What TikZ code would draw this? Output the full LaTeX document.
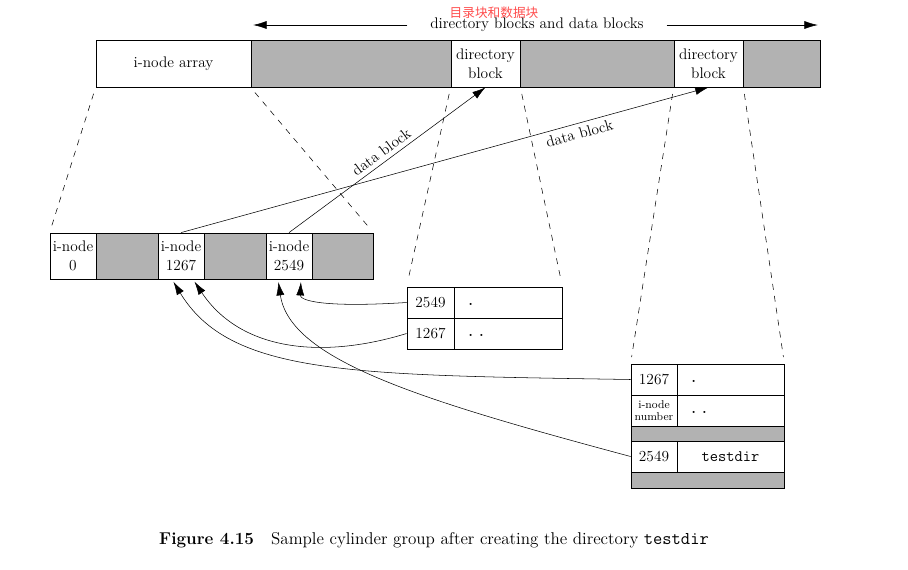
\documentclass[tikz,border=0pt]{standalone}
\usepackage{fontspec}
\newfontfamily\cjk{Noto Sans CJK SC}
\usetikzlibrary{arrows.meta,calc,fit,positioning}
\definecolor{cellgray}{RGB}{178,178,178}
\tikzset{
	cell/.style={draw, line width=0.6pt, inner sep=0pt},
	shaded/.style={cell, fill=cellgray},
	txt/.style={label={[align=center]center:#1}},
	fold/.style={dash pattern=on 4.5pt off 4.5pt, shorten <=5pt, shorten >=5pt},
	ptr/.style={-{Latex[length=10pt,width=6pt]}, shorten >=2pt},
	dots/.style={inner sep=0pt, font=\bfseries},
}
\begin{document}
\begin{tikzpicture}[x=0.75pt,y=-0.75pt,font=\fontsize{11.5}{14}\selectfont]
		\useasboundingbox (0,0) rectangle (908,569);
		\node[cell, fit={(96,40) (251,87)}, txt={i-node array}] (ia) {};
		\node[shaded, fit={(251,40) (451,87)}] (g1) {};
		\node[cell, fit={(451,40) (520,87)}, txt={directory\\block}] (dA) {};
		\node[shaded, fit={(520,40) (674,87)}] (g2) {};
		\node[cell, fit={(674,40) (743,87)}, txt={directory\\block}] (dB) {};
		\node[shaded, fit={(743,40) (820,87)}] (g3) {};
		\node[inner xsep=17pt] (span) at (537,25) {directory blocks and data blocks};
		\node[text=red!70, font=\cjk\fontsize{9.5}{10}\selectfont] (zh) at (494,13) {目录块和数据块};
		\draw[ptr] (span.west) -- (g1.north west |- span.west);
		\draw[ptr] (span.east) -- (g3.north east |- span.east);
		\node[cell, fit={(50,233) (96,279)}, txt={i-node\\0}] (i0) {};
		\node[shaded, fit={(96,233) (158,279)}] (lg1) {};
		\node[cell, fit={(158,233) (204,279)}, txt={i-node\\1267}] (i1267) {};
		\node[shaded, fit={(204,233) (266,279)}] (lg2) {};
		\node[cell, fit={(266,233) (312,279)}, txt={i-node\\2549}] (i2549) {};
		\node[shaded, fit={(312,233) (373,279)}] (lg3) {};
		\node[cell, fit={(407,287) (454,318)}, txt={2549}] (m1) {};
		\node[cell, fit={(454,287) (562,318)}] (m1b) {};
		\node[cell, fit={(407,318) (454,349)}, txt={1267}] (m2) {};
		\node[cell, fit={(454,318) (562,349)}] (m2b) {};
		\node[dots, right=11pt of m1b.west, yshift=-1.5pt] (m1d) {.};
		\node[dots, right=11pt of m2b.west, yshift=-1.5pt] (m2d) {.\hskip5pt.};
		\node[cell, fit={(631,364) (677,395)}, txt={1267}] (r1) {};
		\node[cell, fit={(677,364) (784,395)}] (r1b) {};
		\node[cell, fit={(631,395) (677,426)}, label={[align=center, font=\fontsize{8.5}{9}\selectfont]center:i-node\\number}] (r2) {};
		\node[cell, fit={(677,395) (784,426)}] (r2b) {};
		\node[shaded, fit={(631,426) (784,441)}] (rg1) {};
		\node[cell, fit={(631,441) (677,472)}, txt={2549}] (r3) {};
		\node[cell, fit={(677,441) (784,472)}, label={[font=\fontsize{12}{12}\ttfamily]center:testdir}] (r3b) {};
		\node[shaded, fit={(631,472) (784,488)}] (rg2) {};
		\node[dots, right=11pt of r1b.west, yshift=-1.5pt] (r1d) {.};
		\node[dots, right=11pt of r2b.west, yshift=-1.5pt] (r2d) {.\hskip5pt.};
		\draw[fold] (ia.south west) -- (i0.north west);
		\draw[fold] (g1.south west) -- (lg3.north east);
		\draw[fold] (dA.south west) -- (m1.north west);
		\draw[fold] (dA.south east) -- (m1b.north east);
		\draw[fold] (dB.south west) -- (r1.north west);
		\draw[fold] (dB.south east) -- (r1b.north east);
		\draw[ptr, shorten >=0pt] (i2549.north) -- node[sloped, above, pos=0.5] {data block} (dA.south);
		\draw[ptr, shorten >=0pt] (i1267.north) -- node[sloped, below, pos=0.75] {data block} (dB.south);
		\draw[ptr] (m1.west) .. controls (320,308) and (300,300) .. ($(i2549.south)+(12,0)$);
		\draw[ptr] (m2.west) .. controls (320,360) and (240,350) .. ($(i1267.south)+(12,0)$);
		\draw[ptr] (r1.west) .. controls (350,375) and (230,375) .. ($(i1267.south)+(-9,0)$);
		\draw[ptr] (r3.west) .. controls (420,400) and (290,360) .. ($(i2549.south)+(-11,0)$);
		\node[font=\fontsize{12.8}{14}\selectfont] (cap) at (434,540) {\textbf{Figure 4.15}\quad Sample cylinder group after creating the directory {\fontsize{13.5}{14}\ttfamily testdir}};
\end{tikzpicture}
\end{document}
